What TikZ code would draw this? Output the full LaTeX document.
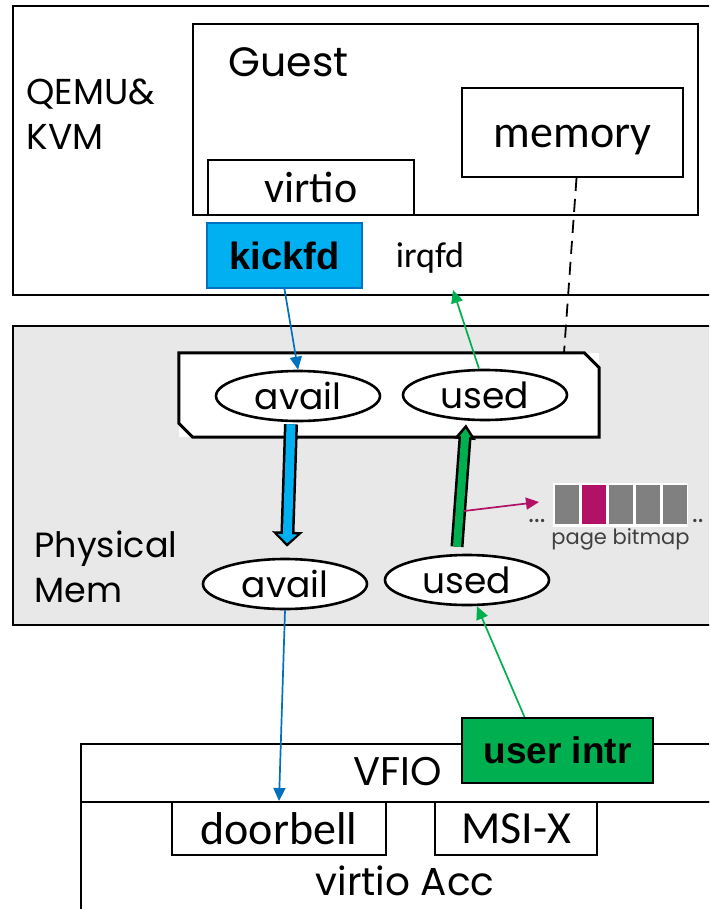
\documentclass[tikz,border=0pt]{standalone}
\usepackage{fontspec}
\setmainfont{Poppins}
\newfontfamily\calib{Carlito}
\newfontfamily\arial{Liberation Sans}
\usetikzlibrary{arrows.meta,positioning,calc,shapes.geometric}

\definecolor{kickblue}{RGB}{0,176,240}
\definecolor{linkblue}{RGB}{0,112,192}
\definecolor{intrgreen}{RGB}{0,176,80}
\definecolor{memgray}{RGB}{232,232,232}
\definecolor{bitpink}{RGB}{178,18,102}
\definecolor{bitgray}{RGB}{128,128,128}
\definecolor{textgray}{RGB}{64,64,64}

\newcommand{\fsz}[1]{\fontsize{#1}{#1}\selectfont}

\begin{document}
\begin{tikzpicture}[x=1pt, y=-1pt, >={Triangle[length=13pt,width=12pt]},
	box/.style={draw, line width=2pt, inner sep=0pt},
	oval/.style={ellipse, draw, fill=white, line width=2.6pt, minimum width=164pt,
		minimum height=50pt, inner sep=0pt, font=\fsz{36}},
	link/.style={->, line width=1.7pt},
	fatout/.style={line width=14pt, -{Triangle[length=15pt,width=30pt]}},
	cell/.style={minimum width=24pt, minimum height=39pt, inner sep=0pt}]
	\clip (0,0) rectangle (709,909);
	\fill[white] (0,0) rectangle (709,909);

	% host side
	\node[box, minimum width=730pt, minimum height=289pt] (qemu) at (378,150.5) {};
	\node[anchor=west, align=left, font=\fontsize{36}{45}\selectfont] (qemulbl) at (23,114) {QEMU\&\\KVM};
	\node[box, minimum width=505pt, minimum height=191pt] (guest) at (445.5,119.5) {};
	\node[anchor=base west, font=\fsz{41}] (guestlbl) at (225,77) {Guest};
	\node[box, minimum width=221pt, minimum height=89pt, text height=31pt, text depth=0pt,
		font=\calib\fsz{46}] (memory) at (572.5,132.5) {memory};
	\node[box, minimum width=206pt, minimum height=55pt, font=\calib\fsz{44}] (virtio) at (311,187.5) {virtio};
	\node[box, draw=linkblue, fill=kickblue, minimum width=155pt, minimum height=65pt,
		font=\arial\bfseries\fsz{38}] (kickfd) at (284.5,255.5) {kickfd};
	\node[font=\calib\fsz{36}] (irqfd) at (430,258) {irqfd};

	% physical memory
	\node[box, fill=memgray, minimum width=730pt, minimum height=299pt] (phys) at (378,475.5) {};
	\node[anchor=west, align=left, font=\fontsize{35}{45}\selectfont] (physlbl) at (31,567) {Physical\\Mem};
	\node[fill=white, minimum width=420pt, minimum height=84pt] (ring) at (389,395) {};
	\draw[line width=3pt] (ring.north west) -- ($(ring.north east)+(-15,0)$)
		-- ($(ring.north east)+(0,15)$) -- (ring.south east)
		-- ($(ring.south west)+(14,0)$) -- ($(ring.south west)+(0,-14)$) -- cycle;
	\node[oval] (availU) at (298,396) {avail};
	\node[oval] (usedU) at (485,395) {used};
	\node[oval] (availL) at (285,584) {avail};
	\node[oval] (usedL) at (467,580) {used};

	\draw[fatout] ($(availU.south)+(-7,2)$) coordinate (bstart)
		-- ($(availL.north)+(2,-11)$) coordinate (bend);
	\draw[kickblue, line width=9pt, -{Triangle[length=9pt,width=19pt]}, shorten >=3.5pt] (bstart) -- (bend);
	\draw[line width=13pt, -{Triangle[length=15pt,width=21pt]}] ($(usedL.north)+(-10,-7)$) coordinate (gstart)
		-- ($(usedU.south)+(-19,3)$) coordinate (gend);
	\draw[intrgreen, line width=8pt, -{Triangle[length=8pt,width=11pt]}, shorten >=4.5pt] (gstart) -- (gend);

	\node[fill=white, minimum width=135pt, minimum height=44pt, inner sep=0pt] (bitmap) at (620.5,505) {};
	\foreach \i/\c in {0/bitgray,1/bitpink,2/bitgray,3/bitgray,4/bitgray}
		\node[cell, fill=\c] (bit\i) at ({567+27*\i},504.5) {};
	\node[below=0pt of bitmap, inner sep=1pt, font=\fsz{21}, text=textgray] (bitlbl) {page bitmap};
	\node[anchor=base east, font=\fsz{27}, text=textgray] (dotsL) at (549,522) {...};
	\node[anchor=base west, inner sep=0pt, font=\fsz{27}, text=textgray] (dotsR) at (692,522) {..};
	\coordinate (tap) at (464,511);
	\coordinate (tapend) at (539,502);
	\draw[link, bitpink] (tap) -- (tapend);

	% accelerator
	\node[box, minimum width=660pt, minimum height=58pt] (vfio) at (411,773) {};
	\node[font=\fsz{40}] (vfiolbl) at (398,772) {VFIO};
	\node[box, minimum width=660pt, minimum height=140pt] (acc) at (411,872) {};
	\node[anchor=base, text depth=0pt, font=\fsz{39}] (acclbl) at (405,895) {virtio Acc};
	\node[box, minimum width=214pt, minimum height=53pt, font=\calib\fsz{46}] (doorbell) at (279,828.5) {doorbell};
	\node[box, minimum width=162pt, minimum height=53pt, font=\calib\fsz{46}] (msix) at (516,828.5) {MSI-X};
	\node[box, fill=intrgreen, minimum width=191pt, minimum height=65pt,
		font=\arial\bfseries\fsz{37}] (userintr) at (557.5,750.5) {user intr};

	\draw[link, linkblue] (kickfd.south) -- (availU.north);
	\draw[link, linkblue] (availL.south) -- (doorbell.north);
	\draw[link, intrgreen] ($(usedU.north)+(-6,0)$) -- ($(irqfd.south)+(23,13)$);
	\draw[link, intrgreen] ($(userintr.north)+(-33,0)$) -- ($(usedL.south)+(10,0)$);
	\draw[line width=1.8pt, dash pattern=on 13pt off 8pt] ($(memory.south)+(4,0)$) -- ($(ring.north)+(175,0)$);
\end{tikzpicture}
\end{document}
